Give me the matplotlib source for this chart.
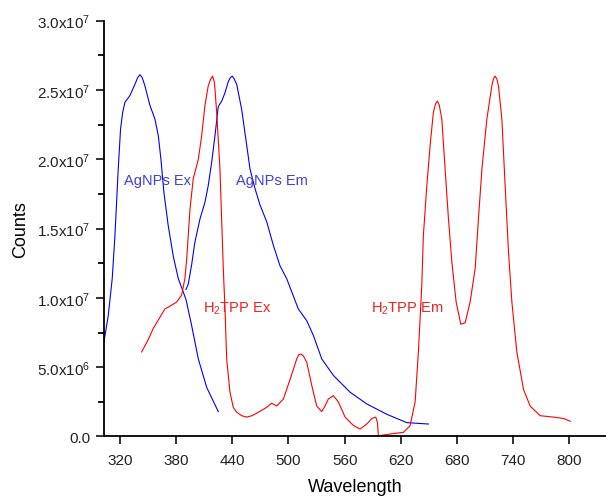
import matplotlib
matplotlib.use("Agg")
import matplotlib.pyplot as plt
from matplotlib.ticker import FixedLocator, MultipleLocator

plt.rcParams['font.family'] = ['Liberation Sans', 'DejaVu Sans']
plt.rcParams['mathtext.fontset'] = 'custom'
plt.rcParams['mathtext.rm'] = 'Liberation Sans'
plt.rcParams['mathtext.it'] = 'Liberation Sans:italic'
plt.rcParams['mathtext.bf'] = 'Liberation Sans:bold'

# ---- data (wavelength nm, counts in units of 1e7) ----
agnps_ex_x = [302.9, 307.5, 311.8, 314.7, 318.2, 320.7, 323.0, 325.3, 330.7, 336.0,
              339.0, 341.4, 343.8, 346.7, 352.0, 357.4, 361.0, 363.8, 367.0, 371.6,
              377.0, 382.3, 390.5, 396.6, 403.7, 412.6, 425.0]
agnps_ex_y = [0.68, 0.87, 1.14, 1.45, 1.93, 2.22, 2.34, 2.41, 2.46, 2.54,
              2.59, 2.61, 2.59, 2.53, 2.39, 2.29, 2.17, 2.00, 1.76, 1.52,
              1.30, 1.14, 0.99, 0.80, 0.56, 0.355, 0.18]

agnps_em_x = [390.5, 393.0, 396.6, 400.0, 405.5, 410.8, 414.3, 418.0, 421.5, 425.0,
              428.7, 432.2, 435.7, 438.0, 440.0, 442.0, 444.7, 450.0, 455.4, 458.9,
              464.2, 469.6, 476.7, 483.8, 491.0, 498.0, 510.5, 519.5, 526.5, 535.5,
              548.0, 565.7, 583.6, 605.0, 626.3, 649.4]
agnps_em_y = [1.06, 1.10, 1.24, 1.40, 1.57, 1.69, 1.81, 1.98, 2.17, 2.38,
              2.42, 2.48, 2.56, 2.59, 2.60, 2.58, 2.54, 2.36, 2.10, 1.93,
              1.79, 1.67, 1.55, 1.38, 1.23, 1.14, 0.92, 0.835, 0.73, 0.56,
              0.44, 0.32, 0.235, 0.16, 0.10, 0.09]

h2tpp_ex_x = [343.2, 350.3, 355.6, 362.7, 368.0, 373.4, 380.6, 385.9, 389.4, 391.3,
              394.8, 398.3, 403.7, 407.3, 410.8, 414.3, 417.0, 419.0, 421.0, 423.3,
              426.8, 430.4, 432.2, 434.0, 437.5, 441.0, 444.7, 450.0, 455.4, 461.0,
              467.8, 476.7, 482.0, 487.4, 494.5, 501.6, 508.8, 511.0, 513.4, 516.0,
              519.5, 524.8, 530.1, 535.5, 539.0, 542.5, 547.9, 553.2, 560.4, 569.2,
              576.4, 583.6, 589.0, 593.2, 595.0, 596.0]
h2tpp_ex_y = [0.61, 0.70, 0.78, 0.86, 0.92, 0.94, 0.97, 1.02, 1.14, 1.28,
              1.64, 1.86, 2.00, 2.17, 2.39, 2.53, 2.58, 2.60, 2.55, 2.34,
              1.93, 1.21, 0.92, 0.56, 0.32, 0.21, 0.175, 0.15, 0.14, 0.15,
              0.175, 0.21, 0.24, 0.22, 0.27, 0.41, 0.56, 0.59, 0.595, 0.58,
              0.535, 0.37, 0.22, 0.18, 0.22, 0.27, 0.295, 0.25, 0.14, 0.08,
              0.054, 0.09, 0.13, 0.14, 0.10, 0.005]

h2tpp_em_x = [580.0, 596.0, 608.5, 622.7, 629.8, 635.2, 638.7, 642.3, 644.0, 647.7,
              651.2, 654.7, 657.0, 659.0, 661.0, 663.7, 667.2, 670.8, 674.4, 679.0,
              684.0, 688.6, 693.9, 699.3, 702.8, 706.5, 711.8, 717.1, 718.8, 720.6,
              722.4, 724.2, 727.8, 731.3, 734.9, 738.5, 743.8, 750.9, 758.0, 768.7,
              782.9, 793.6, 800.8]
h2tpp_em_y = [0.0, 0.005, 0.018, 0.03, 0.078, 0.25, 0.61, 1.09, 1.45, 1.81,
              2.10, 2.34, 2.40, 2.42, 2.39, 2.29, 1.93, 1.57, 1.26, 0.97,
              0.81, 0.82, 0.97, 1.21, 1.57, 1.93, 2.29, 2.53, 2.58, 2.60,
              2.58, 2.53, 2.29, 1.81, 1.33, 0.97, 0.61, 0.34, 0.22, 0.15,
              0.14, 0.13, 0.11]

x_ticks = [320, 380, 440, 500, 560, 620, 680, 740, 800]
y_ticks = [0, 0.5e7, 1.0e7, 1.5e7, 2.0e7, 2.5e7, 3.0e7]
y_ticklabels = ["0.0", r"5.0x10$^6$", r"1.0x10$^7$", r"1.5x10$^7$",
                r"2.0x10$^7$", r"2.5x10$^7$", r"3.0x10$^7$"]

blue = "#0000ff"
red = "#ff0000"

fig = plt.figure(figsize=(6.06, 5.02), dpi=100)
ax = fig.add_axes([0.1716, 0.1285, 0.8284, 0.8283])

scale = 1e7
kw = dict(lw=0.8, solid_joinstyle='round')
ax.plot(agnps_ex_x, [v * scale for v in agnps_ex_y], color=blue, **kw)
ax.plot(agnps_em_x, [v * scale for v in agnps_em_y], color=blue, **kw)
ax.plot(h2tpp_ex_x, [v * scale for v in h2tpp_ex_y], color=red, **kw)
ax.plot(h2tpp_em_x, [v * scale for v in h2tpp_em_y], color=red, **kw)

ax.set_xlim(303, 839)
ax.set_ylim(0, 3.0e7)
ax.xaxis.set_major_locator(FixedLocator(x_ticks))
ax.set_yticks(y_ticks)
ax.set_yticklabels(y_ticklabels)
ax.yaxis.set_minor_locator(MultipleLocator(0.25e7))

for s in ['top', 'right']:
    ax.spines[s].set_visible(False)
for s in ['left', 'bottom']:
    ax.spines[s].set_linewidth(1.3)

ax.tick_params(axis='both', which='major', direction='out', length=6, width=1.3,
               labelsize=11, colors='#222222')
ax.tick_params(axis='y', which='minor', direction='out', length=4, width=1.3)
ax.tick_params(axis='x', pad=6)

ax.set_xlabel("Wavelength", fontsize=13, labelpad=8)
ax.set_ylabel("Counts", fontsize=13, labelpad=6)

txtblue = "#3f3fd6"
txtred = "#f02020"
ax.text(360, 1.85e7, "AgNPs Ex", color=txtblue, fontsize=10.5, ha='center', va='center')
ax.text(482, 1.85e7, "AgNPs Em", color=txtblue, fontsize=10.5, ha='center', va='center')
ax.text(445, 0.925e7, r"H$_2$TPP Ex", color=txtred, fontsize=10.5, ha='center', va='center')
ax.text(626.5, 0.925e7, r"H$_2$TPP Em", color=txtred, fontsize=10.5, ha='center', va='center')

fig.savefig("out.png", dpi=100)
